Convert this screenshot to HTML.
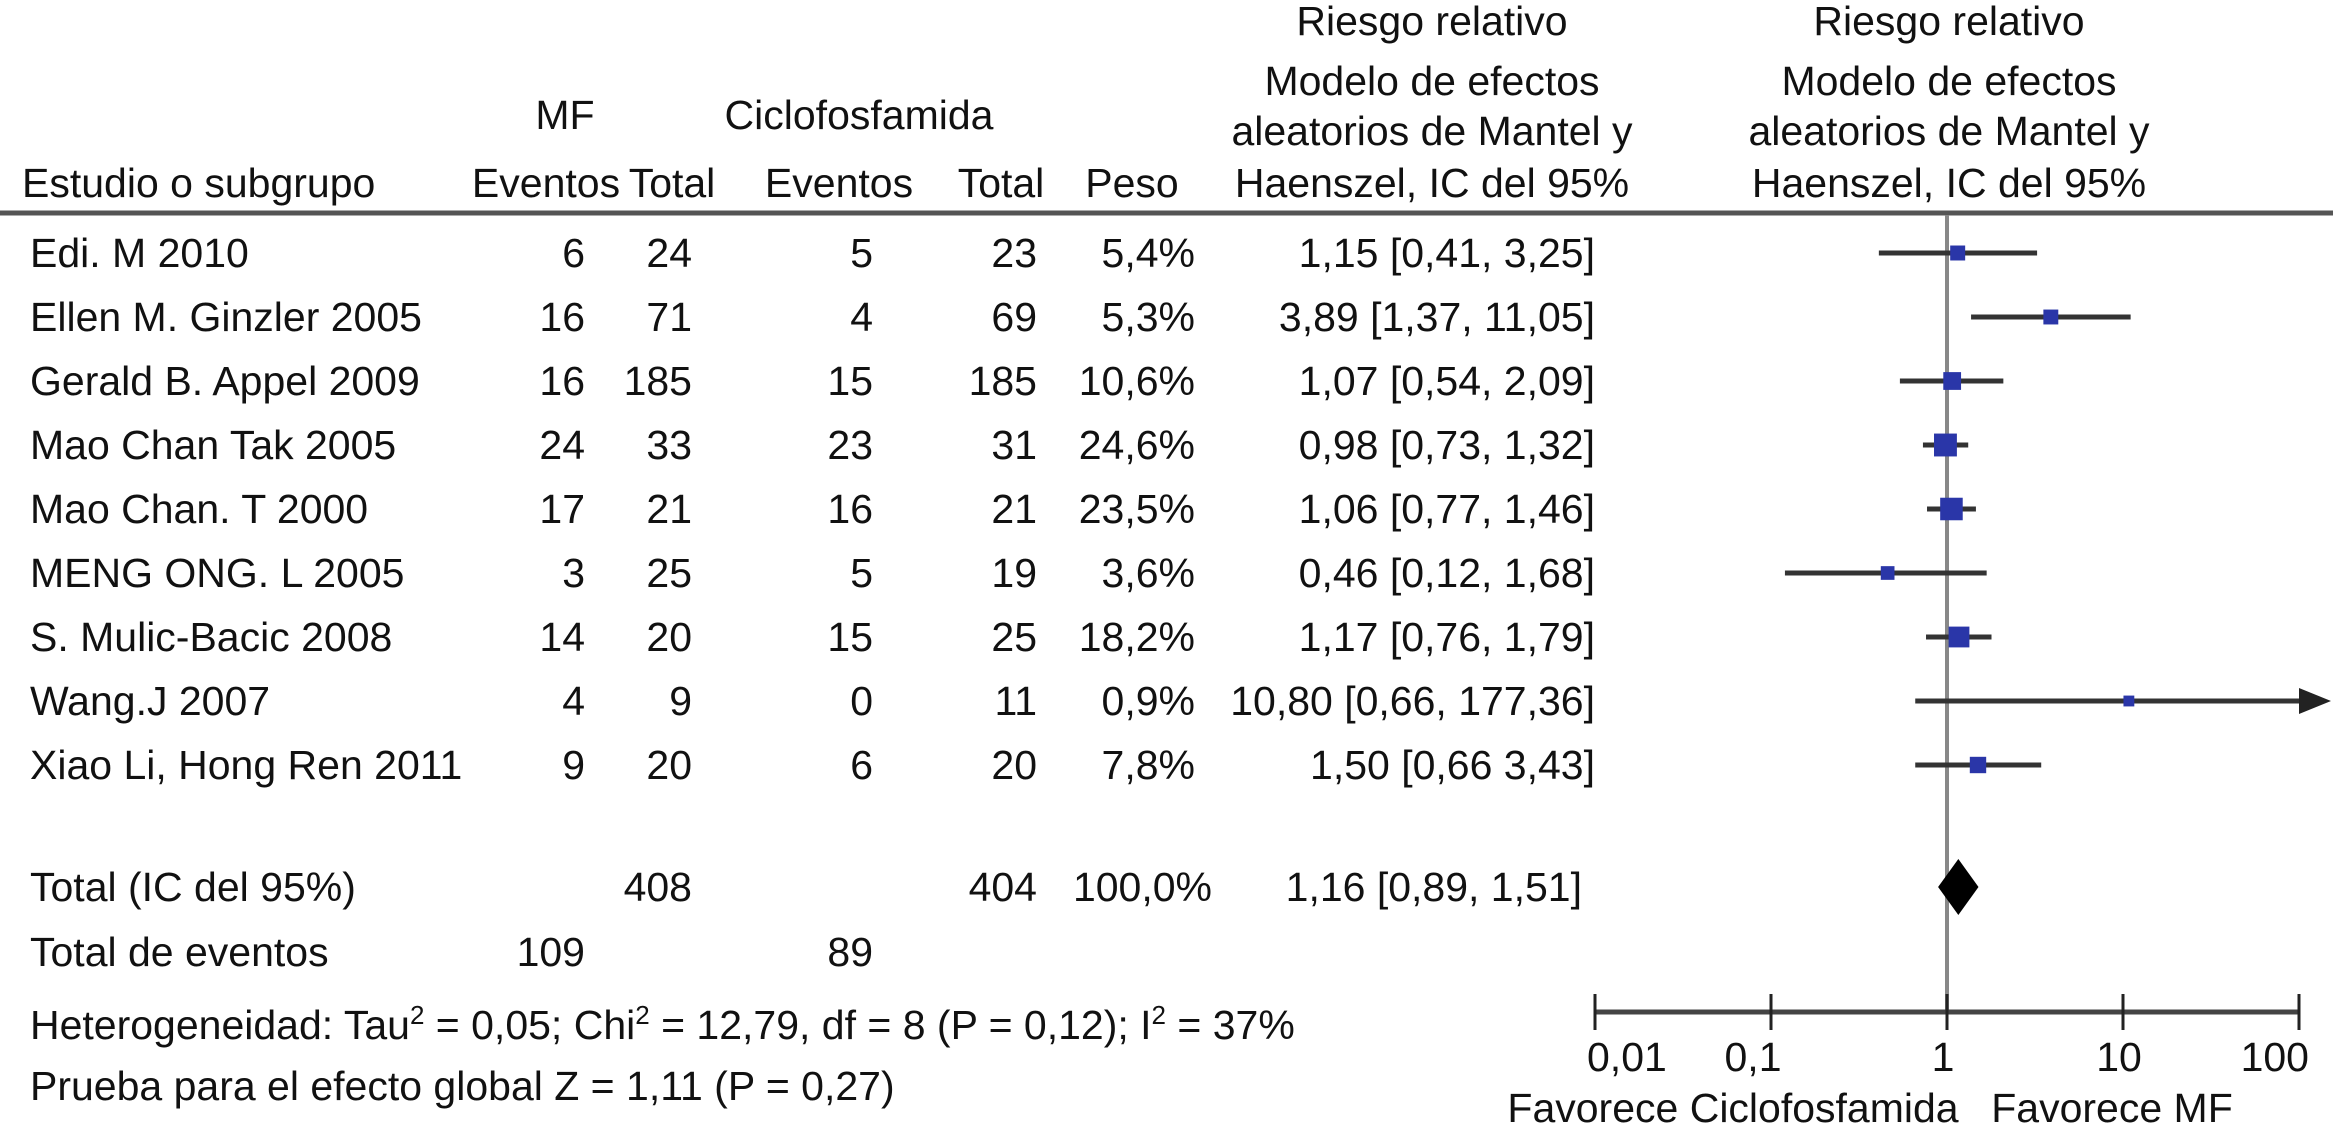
<!DOCTYPE html>
<html><head><meta charset="utf-8"><style>
html,body{margin:0;padding:0;background:#fff;}
svg{display:block;font-family:"Liberation Sans",Arial,sans-serif;}
text{font-size:41px;fill:#111;}
</style></head><body>
<svg id="chart" width="2333" height="1131" viewBox="0 0 2333 1131" xmlns="http://www.w3.org/2000/svg">
<g>
<text x="1432" y="35" text-anchor="middle">Riesgo relativo</text>
<text x="1432" y="95" text-anchor="middle">Modelo de efectos</text>
<text x="1432" y="145" text-anchor="middle">aleatorios de Mantel y</text>
<text x="1432" y="197" text-anchor="middle">Haenszel, IC del 95%</text>
<text x="1949" y="35" text-anchor="middle">Riesgo relativo</text>
<text x="1949" y="95" text-anchor="middle">Modelo de efectos</text>
<text x="1949" y="145" text-anchor="middle">aleatorios de Mantel y</text>
<text x="1949" y="197" text-anchor="middle">Haenszel, IC del 95%</text>
<text x="565" y="129" text-anchor="middle">MF</text>
<text x="859" y="129" text-anchor="middle">Ciclofosfamida</text>
<text x="22" y="197">Estudio o subgrupo</text>
<text x="546" y="197" text-anchor="middle">Eventos</text>
<text x="672" y="197" text-anchor="middle">Total</text>
<text x="839" y="197" text-anchor="middle">Eventos</text>
<text x="1001" y="197" text-anchor="middle">Total</text>
<text x="1132" y="197" text-anchor="middle">Peso</text>
</g>
<line x1="0" y1="213" x2="2333" y2="213" stroke="#555" stroke-width="5"/>
<g id="rows"></g>
<g id="plot"></g>
<g>
<text x="30" y="901">Total (IC del 95%)</text>
<text x="692" y="901" text-anchor="end">408</text>
<text x="1037" y="901" text-anchor="end">404</text>
<text x="1212" y="901" text-anchor="end">100,0%</text>
<text x="1582" y="901" text-anchor="end">1,16 [0,89, 1,51]</text>
<text x="30" y="966">Total de eventos</text>
<text x="585" y="966" text-anchor="end">109</text>
<text x="873" y="966" text-anchor="end">89</text>
<text x="30" y="1039">Heterogeneidad: Tau<tspan dy="-15" font-size="26">2</tspan><tspan dy="15"> = 0,05; Chi</tspan><tspan dy="-15" font-size="26">2</tspan><tspan dy="15"> = 12,79, df = 8 (P = 0,12); I</tspan><tspan dy="-15" font-size="26">2</tspan><tspan dy="15"> = 37%</tspan></text>
<text x="30" y="1100">Prueba para el efecto global Z = 1,11 (P = 0,27)</text>
<text x="1733" y="1122" text-anchor="middle">Favorece Ciclofosfamida</text>
<text x="2112" y="1122" text-anchor="middle">Favorece MF</text>
</g>
</svg>
<script>
const studies = ["Edi. M 2010","Ellen M. Ginzler 2005","Gerald B. Appel 2009","Mao Chan Tak 2005","Mao Chan. T 2000","MENG ONG. L 2005","S. Mulic-Bacic 2008","Wang.J 2007","Xiao Li, Hong Ren 2011"];
const mfEvents = [6,16,16,24,17,3,14,4,9];
const mfTotal = [24,71,185,33,21,25,20,9,20];
const cyEvents = [5,4,15,23,16,5,15,0,6];
const cyTotal = [23,69,185,31,21,19,25,11,20];
const weights = [5.4,5.3,10.6,24.6,23.5,3.6,18.2,0.9,7.8];
const rr = [1.15,3.89,1.07,0.98,1.06,0.46,1.17,10.80,1.50];
const lo = [0.41,1.37,0.54,0.73,0.77,0.12,0.76,0.66,0.66];
const hi = [3.25,11.05,2.09,1.32,1.46,1.68,1.79,177.36,3.43];
const rrLabels = ["1,15 [0,41, 3,25]","3,89 [1,37, 11,05]","1,07 [0,54, 2,09]","0,98 [0,73, 1,32]","1,06 [0,77, 1,46]","0,46 [0,12, 1,68]","1,17 [0,76, 1,79]","10,80 [0,66, 177,36]","1,50 [0,66 3,43]"];
const weightLabels = ["5,4%","5,3%","10,6%","24,6%","23,5%","3,6%","18,2%","0,9%","7,8%"];
const total = [1.16,0.89,1.51];
const ticks = [0.01,0.1,1,10,100];
const tickLabels = ["0,01","0,1","1","10","100"];

const NS="http://www.w3.org/2000/svg";
const xMin=0.01,xMax=100,pxMin=1595,pxMax=2299;
function xs(v){return pxMin+(Math.log10(v)-Math.log10(xMin))/(Math.log10(xMax)-Math.log10(xMin))*(pxMax-pxMin);}
function ys(i){return 253+i*64;}
function mk(tag,attrs,parent){const e=document.createElementNS(NS,tag);for(const k in attrs)e.setAttribute(k,attrs[k]);parent.appendChild(e);return e;}
const rows=document.getElementById('rows'), plot=document.getElementById('plot');

let l=mk('line',{x1:xs(1),y1:215,x2:xs(1),y2:1012,stroke:'#888','stroke-width':4},plot);


let ax=mk('line',{x1:xs(xMin),y1:1012,x2:xs(xMax),y2:1012,stroke:'#444','stroke-width':5},plot);


ticks.forEach((t,i)=>{
  const tk=mk('line',{x1:xs(t),y1:994,x2:xs(t),y2:1030,stroke:'#222','stroke-width':3},plot);
  
  
  const anchor=i===0?'start':(i===ticks.length-1?'end':'middle');
  const dx=i===0?-8:(i===ticks.length-1?10:(i===1?-18:-4));
  const tl=mk('text',{x:xs(t)+dx,y:1071,'text-anchor':anchor,'font-size':43},plot);
  tl.textContent=tickLabels[i];
  
  
});

studies.forEach((s,i)=>{
  const y=ys(i), ty=y+14;
  const g=mk('g',{},rows);
  
  
  const cols=[[s,30,'start'],[mfEvents[i],585,'end'],[mfTotal[i],692,'end'],[cyEvents[i],873,'end'],[cyTotal[i],1037,'end'],[weightLabels[i],1195,'end'],[rrLabels[i],1595,'end']];
  cols.forEach(c=>{
    const t=mk('text',{x:c[1],y:ty,'text-anchor':c[2]},g);
    t.textContent=c[0];
    
    
  });
  const x1=xs(lo[i]), x2=Math.min(xs(hi[i]),xs(xMax));
  const ci=mk('line',{x1:x1,y1:y,x2:x2,y2:y,stroke:'#333','stroke-width':5},plot);
  
  
  if(hi[i]>xMax){
    const ar=mk('polygon',{points:`${x2},${y-13} ${x2+32},${y} ${x2},${y+13}`,fill:'#222'},plot);
    
    
  }
  const sz=8+Math.sqrt(weights[i])*3;
  const sq=mk('rect',{x:xs(rr[i])-sz/2,y:y-sz/2,width:sz,height:sz,fill:'#2a36a8'},plot);
  
  
});
const ty=887;
const dm=mk('polygon',{points:`${xs(total[1])},${ty} ${xs(total[0])},${ty-28} ${xs(total[2])},${ty} ${xs(total[0])},${ty+28}`,fill:'#000'},plot);


</script>
</body></html>
